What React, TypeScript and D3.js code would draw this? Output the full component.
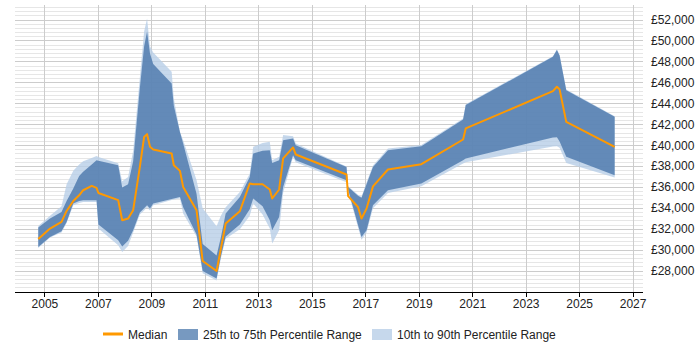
import { useEffect, useRef } from 'react'
import * as d3 from 'd3'

// quarterly-ish sample points, decimal years
const dates = [
  2004.75, 2005.19, 2005.62, 2005.81, 2006.06, 2006.28, 2006.43, 2006.75, 2006.93, 2007.0,
  2007.74, 2007.89, 2008.11, 2008.3, 2008.55, 2008.71, 2008.82, 2008.93, 2009.05, 2009.74,
  2009.82, 2010.05, 2010.17, 2010.67, 2010.9, 2011.42, 2011.58, 2011.76, 2012.29, 2012.66,
  2012.79, 2013.14, 2013.41, 2013.5, 2013.76, 2013.91, 2014.28, 2014.38, 2016.28, 2016.34,
  2016.71, 2016.84, 2017.03, 2017.27, 2017.83, 2019.08, 2020.64, 2020.74, 2024.0, 2024.15,
  2024.25, 2024.5, 2026.31,
]

const median = [
  31070, 32060, 32700, 33750, 34700, 35250, 35730, 36140, 35950, 35470,
  34780, 32860, 33020, 33820, 37960, 40830, 41090, 39880, 39630, 39240,
  38120, 37580, 36050, 33820, 28960, 28010, 30150, 32540, 33720, 36370,
  36300, 36300, 35800, 34940, 35800, 38770, 39820, 39150, 37230, 35160,
  34130, 33020, 33980, 36100, 37710, 38220, 40580, 41640, 45200, 45620,
  45370, 42270, 39880,
]

const p25 = [
  30300, 31260, 31800, 32700, 34460, 34700, 34780, 34780, 34780, 32450,
  30950, 30350, 30900, 31900, 33600, 34000, 34300, 33980, 34460, 34900,
  34950, 35090, 34100, 31500, 28000, 27280, 29400, 31300, 32450, 33900,
  34940, 34200, 32860, 31900, 33180, 36050, 39080, 38600, 36690, 35800,
  32400, 31260, 31900, 34300, 35730, 36370, 38600, 38770, 40770, 40800,
  40400, 38920, 37160,
]

const p75 = [
  32160, 33020, 33650, 34700, 35900, 37100, 37500, 38200, 38600, 38550,
  38120, 36000, 36300, 38500, 45500, 49500, 50900, 48800, 47800, 45940,
  43800, 41300, 40200, 35400, 30600, 29500, 31200, 33500, 35090, 37000,
  39240, 39500, 39550, 38340, 38600, 40520, 40680, 40040, 37960, 36050,
  35200, 35000, 36300, 37960, 39550, 39940, 42500, 43870, 48490, 49130,
  48600, 45300, 42750,
]

const p10 = [
  30200, 31200, 31700, 32600, 34300, 34500, 34600, 34600, 34600, 32060,
  30470, 29830, 30400, 31700, 33400, 33800, 34100, 33800, 34300, 34800,
  34850, 34950, 33500, 31300, 27800, 27100, 29200, 31100, 32000, 33300,
  34460, 33400, 32070, 30630, 31900, 35500, 38900, 38400, 36500, 35600,
  32200, 31000, 31700, 34000, 35470, 36120, 38280, 38400, 39900, 39940,
  39800, 38340, 36950,
]

const p90 = [
  32300, 33300, 34200, 36300, 37600, 38200, 38500, 38800, 39000, 38900,
  38300, 36600, 37000, 39500, 46500, 50900, 52160, 49500, 48900, 47050,
  44500, 41300, 40500, 36700, 34000, 32290, 33300, 34100, 35570, 37300,
  39880, 40250, 40360, 38600, 38920, 41000, 40900, 40200, 38000, 36100,
  35300, 35100, 36500, 38100, 39720, 40050, 42600, 43950, 48550, 49200,
  48650, 45350, 42800,
]

const yearTicks = [2005, 2007, 2009, 2011, 2013, 2015, 2017, 2019, 2021, 2023, 2025, 2027]
const salaryTicks = d3.range(28000, 52001, 2000)
const minorTicks = d3.range(26400, 53401, 400)

const W = 700
const H = 350
const FONT = '"Liberation Sans", Arial, sans-serif'
const MEDIAN_COL = '#ff9900'
const IQR_COL = '#4a77ab'
const DECILE_COL = '#b8cee7'

export default function App() {
  const svgRef = useRef<SVGSVGElement>(null)

  useEffect(() => {
    document.body.style.margin = '0'
    const svg = d3.select(svgRef.current)
    svg.selectAll('*').remove()

    const x = d3.scaleLinear().domain([2003.88, 2027.37]).range([15, 643])
    const y = d3.scaleLinear().domain([26000, 53440]).range([292, 5])
    const [x0, x1] = x.range()
    const [yb, yt] = y.range()

    const rows = dates.map((d, i) => ({ d, m: median[i], q1: p25[i], q3: p75[i], lo: p10[i], hi: p90[i] }))

    // grid: minor horizontals, majors, then year verticals
    const grid = svg.append('g')
    grid.selectAll(null).data(minorTicks.filter(v => v % 2000 !== 0)).join('line')
      .attr('x1', x0).attr('x2', x1).attr('y1', d => y(d)).attr('y2', d => y(d))
      .attr('stroke', '#e6e6e6').attr('stroke-width', 1).attr('shape-rendering', 'crispEdges')
    grid.selectAll(null).data(salaryTicks).join('line')
      .attr('x1', x0).attr('x2', x1).attr('y1', d => y(d)).attr('y2', d => y(d))
      .attr('stroke', '#cccccc').attr('stroke-width', 1).attr('shape-rendering', 'crispEdges')
    grid.selectAll(null).data(yearTicks).join('line')
      .attr('x1', d => x(d)).attr('x2', d => x(d)).attr('y1', yt).attr('y2', yb)
      .attr('stroke', '#cccccc').attr('stroke-width', 1).attr('shape-rendering', 'crispEdges')

    // percentile bands
    const band = (lo: (r: any) => number, hi: (r: any) => number) =>
      d3.area<any>().x(r => x(r.d)).y0(r => y(lo(r))).y1(r => y(hi(r)))
    svg.append('path').datum(rows).attr('d', band(r => r.lo, r => r.hi))
      .attr('fill', DECILE_COL).attr('fill-opacity', 0.8)
    svg.append('path').datum(rows).attr('d', band(r => r.q1, r => r.q3))
      .attr('fill', IQR_COL).attr('fill-opacity', 0.8)

    // median line
    svg.append('path').datum(rows)
      .attr('d', d3.line<any>().x(r => x(r.d)).y(r => y(r.m)))
      .attr('fill', 'none').attr('stroke', MEDIAN_COL).attr('stroke-width', 2)
      .attr('stroke-linejoin', 'round')

    // x axis
    const xa = svg.append('g').attr('transform', `translate(0,${yb})`)
    xa.append('line').attr('x1', x0).attr('x2', x1).attr('stroke', '#000').attr('shape-rendering', 'crispEdges')
    const xt = xa.selectAll(null).data(yearTicks).join('g').attr('transform', d => `translate(${x(d)},0)`)
    xt.append('line').attr('y2', 5).attr('stroke', '#000').attr('shape-rendering', 'crispEdges')
    xt.append('text').attr('y', 16).attr('text-anchor', 'middle')
      .attr('font-family', FONT).attr('font-size', 12).attr('fill', '#222').text(d => d)

    // y labels on the right
    svg.append('g').selectAll(null).data(salaryTicks).join('text')
      .attr('x', 651).attr('y', d => y(d) + 4)
      .attr('font-family', FONT).attr('font-size', 12).attr('fill', '#222')
      .text(d => `£${d3.format(',')(d)}`)

    // legend
    const lg = svg.append('g').attr('font-family', FONT).attr('font-size', 12).attr('fill', '#222')
    lg.append('line').attr('x1', 103).attr('x2', 123).attr('y1', 334).attr('y2', 334)
      .attr('stroke', MEDIAN_COL).attr('stroke-width', 3)
    lg.append('text').attr('x', 128).attr('y', 338.5).text('Median')
    lg.append('rect').attr('x', 178).attr('y', 329).attr('width', 20).attr('height', 11)
      .attr('fill', IQR_COL).attr('fill-opacity', 0.75)
    lg.append('text').attr('x', 203).attr('y', 338.5).text('25th to 75th Percentile Range')
    lg.append('rect').attr('x', 372).attr('y', 329).attr('width', 20).attr('height', 11)
      .attr('fill', DECILE_COL).attr('fill-opacity', 0.8)
    lg.append('text').attr('x', 397).attr('y', 338.5).text('10th to 90th Percentile Range')
  }, [])

  return <svg ref={svgRef} width={W} height={H} style={{ display: 'block', background: '#fff' }} />
}
